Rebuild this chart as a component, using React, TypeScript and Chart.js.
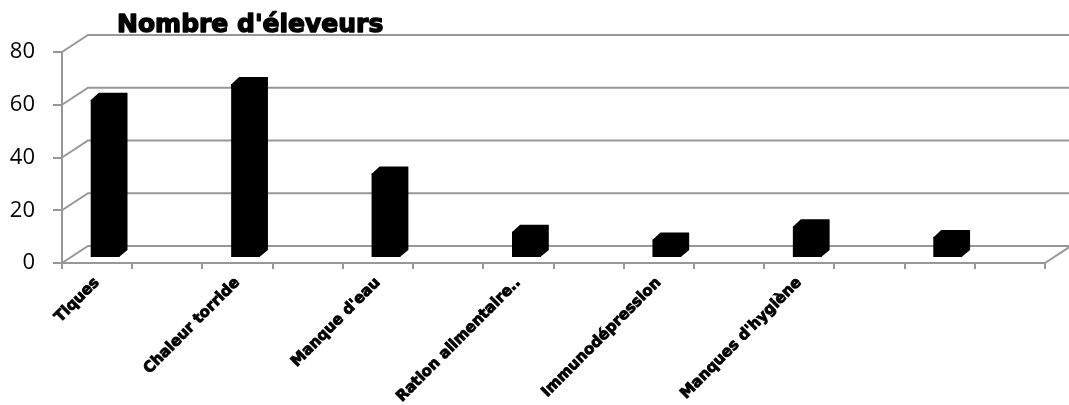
import { useEffect, useRef } from "react";
import { Chart, registerables } from "chart.js";

Chart.register(...registerables);

// Causes cited by the breeders and how many breeders cited each one
const causes = [
  "Tiques",
  "Chaleur torride",
  "Manque d'eau",
  "Ration alimentaire..",
  "Immunodépression",
  "Manques d'hygiène",
  "",
];
const eleveurs = [60, 66, 32, 10, 7, 12, 8];
const yTicks = [0, 20, 40, 60, 80];
const chartTitle = "Nombre d'éleveurs";

// Each cause sits in its own slot followed by an empty spacer slot
const slotLabels = causes.flatMap((c) => [c, ""]);
const slotValues = eleveurs.flatMap((v) => [v, null]);

const GRID = "#979797";
const WALL_DX = 26; // depth of the walls/floor
const WALL_DY = 17;
const BAR_SHIFT_X = 8; // columns stand a little behind the front edge
const BAR_SHIFT_Y = 5;
const BAR_DX = 8; // visible depth of each column
const BAR_DY = 7;

const perspective = {
  id: "perspective",
  beforeDatasetsDraw(chart: any) {
    const { ctx, chartArea, scales } = chart;
    const { left, right } = chartArea;
    const y = scales.y;
    ctx.save();
    ctx.strokeStyle = GRID;
    ctx.lineWidth = 2;
    for (const v of yTicks) {
      const py = y.getPixelForValue(v);
      ctx.beginPath();
      ctx.moveTo(left, py);
      ctx.lineTo(left + WALL_DX, py - WALL_DY);
      ctx.lineTo(right + WALL_DX + 10, py - WALL_DY);
      ctx.stroke();
    }
    const p0 = y.getPixelForValue(0);
    ctx.beginPath();
    ctx.moveTo(right, p0);
    ctx.lineTo(right + WALL_DX, p0 - WALL_DY);
    ctx.stroke();
    ctx.restore();
    ctx.save();
    ctx.translate(BAR_SHIFT_X, -BAR_SHIFT_Y);
  },
  afterDatasetsDraw(chart: any) {
    const ctx = chart.ctx;
    const meta = chart.getDatasetMeta(0);
    const values = chart.data.datasets[0].data;
    ctx.fillStyle = "#000";
    meta.data.forEach((bar: any, i: number) => {
      if (values[i] == null) return;
      const { x, y, base, width } = bar.getProps(["x", "y", "base", "width"], true);
      const l = x - width / 2;
      const r = x + width / 2;
      ctx.beginPath();
      ctx.moveTo(l, y + 0.5);
      ctx.lineTo(l + BAR_DX, y - BAR_DY);
      ctx.lineTo(r + BAR_DX, y - BAR_DY);
      ctx.lineTo(r + BAR_DX, base - BAR_DY);
      ctx.lineTo(r - 0.5, base);
      ctx.closePath();
      ctx.fill();
    });
    ctx.restore();
  },
  afterDraw(chart: any) {
    const ctx = chart.ctx;
    ctx.save();
    ctx.fillStyle = "#000";
    ctx.strokeStyle = "#000";
    ctx.lineWidth = 1.4;
    ctx.lineJoin = "round";
    ctx.font = "bold 25px 'DejaVu Sans'";
    ctx.textAlign = "left";
    ctx.textBaseline = "alphabetic";
    ctx.strokeText(chartTitle, 117, 32);
    ctx.fillText(chartTitle, 117, 32);
    ctx.restore();
  },
};

export default function App() {
  const canvasRef = useRef<HTMLCanvasElement | null>(null);

  useEffect(() => {
    const canvas = canvasRef.current;
    if (!canvas) return;
    const chart = new Chart(canvas, {
      type: "bar",
      data: {
        labels: slotLabels,
        datasets: [
          {
            label: chartTitle,
            data: slotValues,
            backgroundColor: "#000",
            borderWidth: 0,
            categoryPercentage: 1,
            barPercentage: 0.41,
            clip: false,
          } as any,
        ],
      },
      options: {
        responsive: false,
        animation: false,
        devicePixelRatio: 1,
        layout: { padding: { top: 52, right: 24, left: 0, bottom: 0 } },
        plugins: {
          legend: { display: false },
          title: { display: false },
          tooltip: { enabled: false },
        },
        scales: {
          x: {
            offset: true,
            grid: {
              offset: true,
              drawOnChartArea: false,
              drawTicks: true,
              tickLength: 6,
              color: GRID,
              lineWidth: 2,
            },
            border: { display: true, color: GRID, width: 2 },
            ticks: {
              autoSkip: false,
              minRotation: 45,
              maxRotation: 45,
              padding: 5,
              color: "#000",
              textStrokeColor: "#000",
              textStrokeWidth: 0.9,
              font: { family: "'DejaVu Sans'", size: 15, weight: "bold" },
            } as any,
            afterFit(scale: any) {
              scale.height = 142;
            },
          },
          y: {
            min: 0,
            max: 80,
            ticks: {
              stepSize: 20,
              padding: 18,
              color: "#000",
              font: { family: "'Open Sans'", size: 22 },
            },
            grid: {
              drawOnChartArea: false,
              drawTicks: true,
              tickLength: 9,
              color: GRID,
              lineWidth: 2,
            },
            border: { display: true, color: GRID, width: 2 },
            afterFit(scale: any) {
              scale.width = 62;
            },
          },
        },
      },
      plugins: [perspective],
    });
    return () => chart.destroy();
  }, []);

  return (
    <div style={{ position: "absolute", left: 0, top: 0, width: 1069, height: 405, background: "#fff" }}>
      <canvas ref={canvasRef} width={1069} height={405} />
    </div>
  );
}
